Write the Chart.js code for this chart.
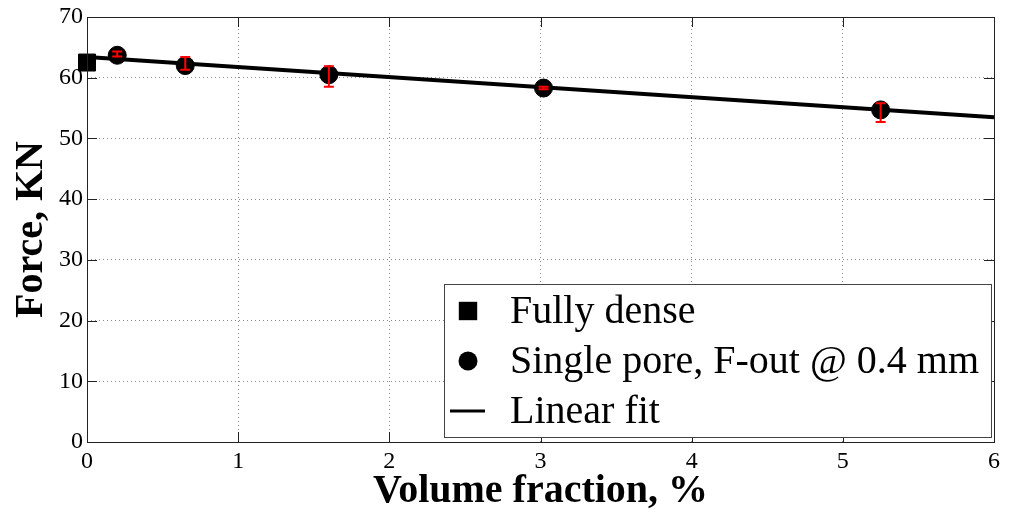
<!DOCTYPE html>
<html>
<head>
<meta charset="utf-8">
<title>Force vs volume fraction</title>
<script src="https://cdn.jsdelivr.net/npm/chart.js@4.4.0/dist/chart.umd.min.js"></script>
<style>
  html, body { margin: 0; padding: 0; background: #fff; }
  #wrap { width: 1011px; height: 516px; }
</style>
</head>
<body>
<div id="wrap"><canvas id="forceChart" width="1011" height="516"></canvas></div>
<script>
// measured data
const denseX = [0];
const denseY = [62.5];
const poreX = [0.2, 0.65, 1.6, 3.02, 5.25];
const poreY = [63.7, 62.0, 60.5, 58.3, 54.7];
const poreErrUp = [0.6, 1.4, 1.4, 0.2, 1.1];
const poreErrDown = [0.2, 0.7, 2.0, 0.2, 2.0];
// linear fit end points
const fitX = [0, 6];
const fitY = [63.4, 53.5];

const xTicks = [0, 1, 2, 3, 4, 5, 6];
const yTicks = [0, 10, 20, 30, 40, 50, 60, 70];
const seriesLabels = ['Fully dense', 'Single pore, F-out @ 0.4 mm', 'Linear fit'];

const serif = "'Liberation Serif', 'Times New Roman', serif";
const toPoints = (xs, ys) => xs.map((x, i) => ({ x: x, y: ys[i] }));

// red error bars on the pore series
const errorBars = {
    id: 'errorBars',
    afterDatasetsDraw(chart) {
        const { ctx, scales: { x, y } } = chart;
        ctx.save();
        ctx.strokeStyle = '#ff0000';
        ctx.lineWidth = 2;
        poreX.forEach((px, i) => {
            const cx = x.getPixelForValue(px);
            const top = y.getPixelForValue(poreY[i] + poreErrUp[i]);
            const bot = y.getPixelForValue(poreY[i] - poreErrDown[i]);
            ctx.beginPath();
            ctx.moveTo(cx, top); ctx.lineTo(cx, bot);
            ctx.moveTo(cx - 5, top); ctx.lineTo(cx + 5, top);
            ctx.moveTo(cx - 5, bot); ctx.lineTo(cx + 5, bot);
            ctx.stroke();
        });
        ctx.restore();
    }
};

// box around the plot with inward ticks on all four sides
const frame = {
    id: 'frame',
    afterDatasetsDraw(chart) {
        const { ctx, chartArea: a, scales: { x, y } } = chart;
        const len = 10;
        ctx.save();
        ctx.strokeStyle = '#222';
        ctx.lineWidth = 1;
        ctx.beginPath();
        xTicks.forEach(v => {
            const px = Math.round(x.getPixelForValue(v)) + 0.5;
            ctx.moveTo(px, a.bottom); ctx.lineTo(px, a.bottom - len);
            ctx.moveTo(px, a.top); ctx.lineTo(px, a.top + len);
        });
        yTicks.forEach(v => {
            const py = Math.round(y.getPixelForValue(v)) + 0.5;
            ctx.moveTo(a.left, py); ctx.lineTo(a.left + len, py);
            ctx.moveTo(a.right, py); ctx.lineTo(a.right - len, py);
        });
        ctx.stroke();
        ctx.strokeRect(Math.round(a.left) + 0.5, Math.round(a.top) + 0.5,
                       Math.round(a.right - a.left), Math.round(a.bottom - a.top));
        ctx.restore();
    }
};

// legend box in the lower right of the plot
const boxLegend = {
    id: 'boxLegend',
    afterDraw(chart) {
        const { ctx, chartArea: a } = chart;
        const left = 444, top = 284, right = a.right - 3, bottom = 437;
        ctx.save();
        ctx.fillStyle = '#fff';
        ctx.fillRect(left, top, right - left, bottom - top);
        ctx.strokeStyle = '#444';
        ctx.lineWidth = 1;
        ctx.strokeRect(left + 0.5, top + 0.5, right - left, bottom - top);

        const rows = [311, 361, 411];
        const mx = 468;
        ctx.fillStyle = '#000';
        ctx.strokeStyle = '#000';
        Chart.helpers.drawPoint(ctx, { pointStyle: 'rect', radius: 13, rotation: 0, borderWidth: 0 }, mx, rows[0]);
        Chart.helpers.drawPoint(ctx, { pointStyle: 'circle', radius: 9.5, rotation: 0, borderWidth: 0 }, mx, rows[1]);
        ctx.lineWidth = 3;
        ctx.beginPath();
        ctx.moveTo(450, rows[2]); ctx.lineTo(485, rows[2]);
        ctx.stroke();

        ctx.font = '40px ' + serif;
        ctx.textBaseline = 'middle';
        ctx.textAlign = 'left';
        seriesLabels.forEach((t, i) => ctx.fillText(t, 510, rows[i] + 1));
        ctx.restore();
    }
};

Chart.defaults.color = '#000';
Chart.defaults.font.family = serif;

new Chart(document.getElementById('forceChart'), {
    type: 'scatter',
    data: {
        datasets: [
            {
                label: seriesLabels[2],
                type: 'line',
                data: toPoints(fitX, fitY),
                borderColor: '#000',
                borderWidth: 4,
                pointRadius: 0,
                order: 3
            },
            {
                label: seriesLabels[0],
                data: toPoints(denseX, denseY),
                pointStyle: 'rect',
                pointRadius: 12,
                backgroundColor: '#000',
                borderColor: '#000',
                borderWidth: 1,
                clip: false,
                order: 2
            },
            {
                label: seriesLabels[1],
                data: toPoints(poreX, poreY),
                pointStyle: 'circle',
                pointRadius: 9,
                backgroundColor: '#000',
                borderColor: '#000',
                borderWidth: 1,
                clip: false,
                order: 1
            }
        ]
    },
    options: {
        responsive: false,
        devicePixelRatio: 1,
        animation: false,
        layout: { padding: { top: 17, right: 17, left: 0, bottom: 0 } },
        plugins: {
            legend: { display: false },
            tooltip: { enabled: false }
        },
        scales: {
            x: {
                type: 'linear',
                min: 0, max: 6,
                afterBuildTicks: s => { s.ticks = xTicks.map(v => ({ value: v })); },
                ticks: { padding: 5, font: { family: serif, size: 24 }, color: '#000' },
                grid: { color: '#8a8a8a', lineWidth: 1, drawTicks: false },
                border: { display: false, dash: [1, 3] },
                title: {
                    display: true,
                    text: 'Volume fraction, %',
                    font: { family: serif, size: 40, weight: 'bold' },
                    padding: { top: 0, bottom: 0 }
                },
                afterFit: s => {
                    s.height = 74;
                    s.paddingLeft = 0; s.paddingRight = 0;
                }
            },
            y: {
                min: 0, max: 70,
                afterBuildTicks: s => { s.ticks = yTicks.map(v => ({ value: v })); },
                ticks: { padding: 4, font: { family: serif, size: 24 }, color: '#000' },
                grid: { color: '#8a8a8a', lineWidth: 1, drawTicks: false },
                border: { display: false, dash: [1, 3] },
                title: {
                    display: true,
                    text: 'Force, KN',
                    font: { family: serif, size: 40, weight: 'bold' },
                    padding: { top: 8, bottom: 0 }
                },
                afterFit: s => {
                    s.width = 87;
                    s.paddingTop = 0; s.paddingBottom = 0;
                }
            }
        }
    },
    plugins: [errorBars, frame, boxLegend]
});
</script>
</body>
</html>
